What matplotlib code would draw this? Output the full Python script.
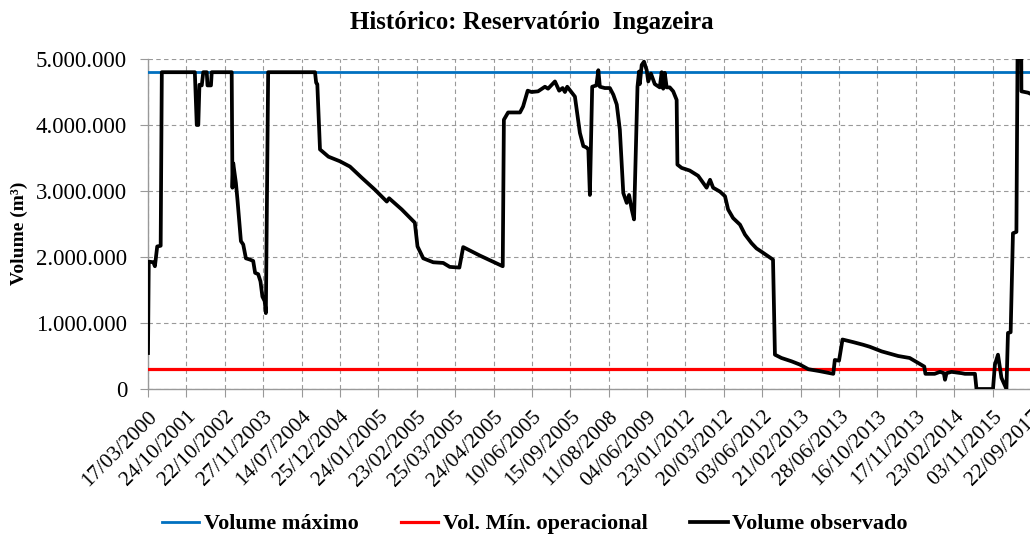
import matplotlib.pyplot as plt
import matplotlib.transforms as mtransforms
import numpy as np
from matplotlib.ticker import FuncFormatter

plt.rcParams['font.family'] = ['Liberation Serif', 'DejaVu Serif']

datas = ['17/03/2000', '24/10/2001', '22/10/2002', '27/11/2003', '14/07/2004',
         '25/12/2004', '24/01/2005', '23/02/2005', '25/03/2005', '24/04/2005',
         '10/06/2005', '15/09/2005', '11/08/2008', '04/06/2009', '23/01/2012',
         '20/03/2012', '03/06/2012', '21/02/2013', '28/06/2013', '16/10/2013',
         '17/11/2013', '23/02/2014', '03/11/2015', '22/09/2017']

vol_max = 4800000
vol_min = 300000

# posicao ao longo do eixo de categorias (em unidades de rotulo) e volume em mil m3
pos_obs = [0.00, 0.02, 0.14, 0.18, 0.24, 0.33, 0.36, 1.22, 1.27, 1.31, 1.34, 1.40,
           1.44, 1.53, 1.55, 1.64, 1.66, 2.18, 2.20, 2.22, 2.29, 2.33, 2.42, 2.48,
           2.55, 2.66, 2.74, 2.79, 2.87, 2.93, 2.98, 3.04, 3.07, 3.13, 4.35, 4.38,
           4.41, 4.48, 4.70, 5.00, 5.26, 5.57, 5.91, 6.22, 6.28, 6.61, 6.95, 7.02,
           7.17, 7.43, 7.69, 7.86, 8.11, 8.21, 8.65, 9.24, 9.27, 9.38, 9.69, 9.77,
           9.89, 9.99, 10.16, 10.34, 10.42, 10.60, 10.71, 10.80, 10.86, 10.92, 11.08,
           11.12, 11.25, 11.34, 11.42, 11.47, 11.51, 11.57, 11.68, 11.73, 11.77, 11.90,
           12.03, 12.12, 12.21, 12.29, 12.38, 12.47, 12.53, 12.60, 12.66, 12.75, 12.79,
           12.81, 12.86, 12.92, 12.99, 13.03, 13.10, 13.20, 13.33, 13.38, 13.42, 13.46,
           13.51, 13.59, 13.68, 13.77, 13.79, 13.90, 14.11, 14.33, 14.55, 14.64, 14.72,
           14.90, 15.03, 15.11, 15.24, 15.42, 15.55, 15.72, 15.85, 15.98, 16.28, 16.33,
           16.50, 16.76, 16.98, 17.20, 17.50, 17.85, 17.89, 18.00, 18.09, 18.37, 18.63,
           18.80, 19.11, 19.54, 19.84, 20.10, 20.22, 20.25, 20.49, 20.63, 20.73, 20.76,
           20.80, 20.93, 21.19, 21.28, 21.54, 21.58, 22.01, 22.06, 22.14, 22.23, 22.36,
           22.40, 22.47, 22.53, 22.62, 22.66, 22.74, 22.75, 22.92, 23.00]
vol_obs = [545, 1930, 1920, 1860, 2160, 2170, 4800, 4800, 4000, 4000, 4610, 4600,
           4800, 4800, 4600, 4600, 4800, 4800, 3050, 3420, 3120, 2870, 2240, 2190,
           1980, 1960, 1940, 1760, 1740, 1630, 1400, 1330, 1150, 4800, 4800, 4640,
           4620, 3630, 3520, 3450, 3370, 3200, 3020, 2840, 2890, 2720, 2520, 2160,
           1980, 1920, 1910, 1850, 1840, 2150, 2020, 1860, 4080, 4190, 4190, 4280,
           4520, 4500, 4510, 4580, 4550, 4660, 4520, 4560, 4500, 4580, 4460,
           4430, 3880, 3680, 3660, 3630, 2940, 4580, 4600, 4830, 4580, 4560,
           4560, 4460, 4310, 3930, 2970, 2820, 2940, 2720, 2570, 4580, 4810,
           4620, 4910, 4960, 4830, 4660, 4780, 4620, 4570, 4800, 4550, 4790,
           4570, 4570, 4510, 4380, 3400, 3350, 3310, 3230, 3050, 3170, 3050,
           2990, 2920, 2720, 2590, 2490, 2340, 2210, 2130, 2080, 1960, 520,
           470, 420, 370, 300, 270, 230, 440, 430, 750, 710, 670,
           640, 570, 500, 470, 380, 340, 230, 230, 260, 240, 140,
           240, 260, 240, 230, 230, 0, 0, 370, 520, 170, 0,
           850, 860, 2360, 2380, 6000, 6000, 4510, 4490, 4470]

pos_obs = np.array(pos_obs)
vol_obs = np.array(vol_obs) * 1000

fig = plt.figure(figsize=(10.30, 5.36), dpi=100)
ax = fig.add_axes([148/1030, 147/536, 883/1030, 330/536])

x_ext = [0, len(datas) - 1]
ax.plot(x_ext, [vol_max, vol_max], c='#0070C0', lw=2.0, label='Volume máximo', zorder=3)
ax.plot(x_ext, [vol_min, vol_min], c='#FF0000', lw=2.3, label='Vol. Mín. operacional', zorder=3)
ax.plot(pos_obs, vol_obs, c='k', lw=2.7, label='Volume observado', zorder=4)

ax.set_xlim(0, len(datas) - 1)
ax.set_ylim(0, 5000000)
ax.set_xticks(range(len(datas)))
ax.set_xticklabels(datas, rotation=45, ha='right', rotation_mode='anchor', fontsize=15.5)
# desloca os rotulos de data um pouco para a esquerda, como no Excel
shift = mtransforms.ScaledTranslation(-6/100, 0, fig.dpi_scale_trans)
for lbl in ax.get_xticklabels():
    lbl.set_transform(lbl.get_transform() + shift)
ax.set_yticks(np.arange(0, 5000001, 1000000))
ax.yaxis.set_major_formatter(FuncFormatter(lambda v, p: f'{int(v):,}'.replace(',', '.')))
ax.tick_params(axis='y', labelsize=16.5, length=6, color='#999999', pad=9)
ax.tick_params(axis='x', length=6, color='#999999', pad=7)

ax.grid(True, ls=(0, (4, 3)), c='#999999', lw=0.8)
for s in ['top', 'right']:
    ax.spines[s].set_visible(False)
for s in ['left', 'bottom']:
    ax.spines[s].set_color('#999999')
    ax.spines[s].set_linewidth(1.0)

ax.set_ylabel('Volume (m³)', fontsize=14, fontweight='bold')
ax.yaxis.set_label_coords(-0.136, 0.473)
fig.suptitle('Histórico: Reservatório  Ingazeira', fontsize=18, fontweight='bold',
             x=0.516, y=0.979)

fig.legend(loc='center', bbox_to_anchor=(0.519, 0.022), ncol=3, frameon=False,
           prop={'size': 16, 'weight': 'bold'}, handlelength=1.7, handletextpad=0.2,
           columnspacing=1.9)

plt.savefig('out.png', dpi=100)
